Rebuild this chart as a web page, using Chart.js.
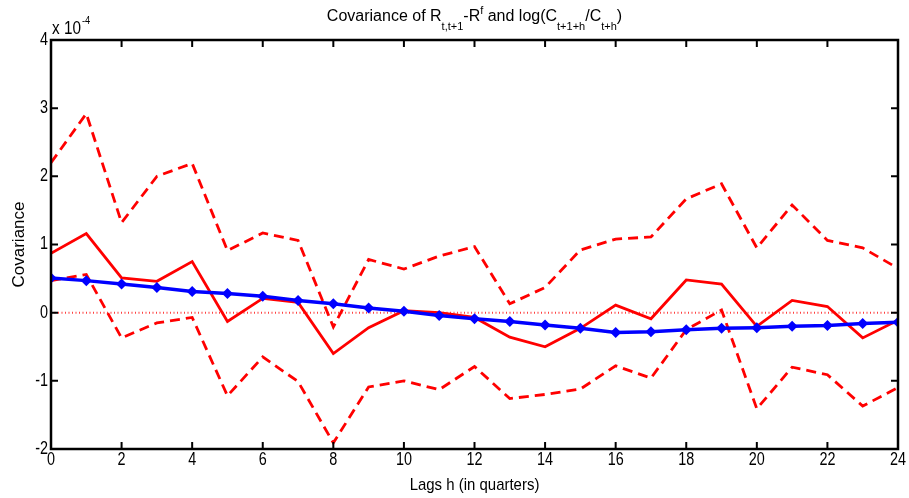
<!DOCTYPE html>
<html><head><meta charset="utf-8">
<script src="https://cdn.jsdelivr.net/npm/chart.js@4/dist/chart.umd.min.js"></script>
<style>html,body{margin:0;padding:0;background:#fff}#wrap{width:909px;height:498px}</style>
</head><body><div id="wrap"><canvas id="c" width="909" height="498"></canvas></div>
<script>
const lags = [0,1,2,3,4,5,6,7,8,9,10,11,12,13,14,15,16,17,18,19,20,21,22,23,24];
// values in units of 1e-4
const upperBand = [2.20,2.92,1.32,2.00,2.19,0.91,1.17,1.06,-0.21,0.78,0.64,0.83,0.97,0.13,0.37,0.92,1.08,1.11,1.67,1.89,0.95,1.58,1.06,0.95,0.65];
const estimate  = [0.87,1.16,0.51,0.46,0.75,-0.13,0.21,0.15,-0.60,-0.22,0.03,0.00,-0.07,-0.36,-0.50,-0.23,0.11,-0.09,0.48,0.42,-0.20,0.18,0.09,-0.37,-0.11];
const lowerBand = [0.47,0.56,-0.37,-0.15,-0.07,-1.22,-0.65,-1.01,-1.91,-1.09,-1.00,-1.13,-0.79,-1.26,-1.20,-1.12,-0.78,-0.96,-0.25,0.04,-1.41,-0.80,-0.91,-1.37,-1.10];
const model     = [0.51,0.47,0.42,0.37,0.31,0.28,0.24,0.18,0.13,0.07,0.02,-0.04,-0.09,-0.13,-0.18,-0.23,-0.29,-0.28,-0.25,-0.23,-0.22,-0.20,-0.19,-0.16,-0.14];
const zeroLine = [0,0];
const zeroX = [0,24];
const xTicks = [0,2,4,6,8,10,12,14,16,18,20,22,24];
const yTicks = [-2,-1,0,1,2,3,4];

const FONT = "'Liberation Sans',Arial,sans-serif";
const pts = (xs, ys) => xs.map((x,i)=>({x:x,y:ys[i]}));

function narrowText(ctx, txt, x, y, sx){
  ctx.save(); ctx.translate(x,y); ctx.scale(sx,1); ctx.fillText(txt,0,0); ctx.restore();
}

const framePlugin = {
  id:'frame',
  afterDraw(chart){
    const ctx = chart.ctx, a = chart.chartArea;
    const xs = chart.scales.x, ys = chart.scales.y;
    ctx.save();
    ctx.strokeStyle = '#000'; ctx.lineWidth = 2.5;
    ctx.strokeRect(a.left, a.top, a.right-a.left, a.bottom-a.top);
    ctx.lineWidth = 2;
    const tl = 7;
    ctx.beginPath();
    xTicks.forEach(v=>{ const p = xs.getPixelForValue(v);
      ctx.moveTo(p,a.bottom); ctx.lineTo(p,a.bottom-tl);
      ctx.moveTo(p,a.top); ctx.lineTo(p,a.top+tl); });
    yTicks.forEach(v=>{ const p = ys.getPixelForValue(v);
      ctx.moveTo(a.left,p); ctx.lineTo(a.left+tl,p);
      ctx.moveTo(a.right,p); ctx.lineTo(a.right-tl,p); });
    ctx.stroke();
    // tick labels
    ctx.fillStyle = '#000';
    ctx.font = '18px ' + FONT;
    ctx.textAlign = 'center'; ctx.textBaseline = 'top';
    xTicks.forEach(v=>{ narrowText(ctx, String(v), xs.getPixelForValue(v), a.bottom+2, 0.8); });
    ctx.textAlign = 'right'; ctx.textBaseline = 'middle';
    yTicks.forEach(v=>{ narrowText(ctx, String(v), a.left-3, ys.getPixelForValue(v), 0.8); });
    // exponent label
    ctx.textAlign = 'left'; ctx.textBaseline = 'alphabetic';
    ctx.font = '18px ' + FONT;
    narrowText(ctx, 'x 10', a.left+1, a.top-6, 0.85);
    const w = ctx.measureText('x 10').width*0.85;
    ctx.font = '11px ' + FONT;
    narrowText(ctx, '-4', a.left+2+w, a.top-16, 0.85);
    // axis titles
    ctx.font = '17px ' + FONT;
    ctx.textAlign = 'center';
    narrowText(ctx, 'Lags h (in quarters)', (a.left+a.right)/2, 490, 0.88);
    ctx.save();
    ctx.translate(24, (a.top+a.bottom)/2);
    ctx.rotate(-Math.PI/2);
    ctx.fillText('Covariance', 0, 0);
    ctx.restore();
    // title with sub/superscripts
    const segs = [
      ['Covariance of R','n'],['t,t+1','sub'],['-R','n'],['f','sup'],
      [' and log(C','n'],['t+1+h','sub'],['/C','n'],['t+h','sub'],[')','n']];
    const fn = '16px ' + FONT;
    const fs = '11px ' + FONT;
    let total = 0;
    segs.forEach(s=>{ ctx.font = s[1]==='n'?fn:fs; total += ctx.measureText(s[0]).width; });
    let x = (a.left+a.right)/2 - total/2;
    const base = 21;
    ctx.textAlign = 'left';
    segs.forEach(s=>{
      ctx.font = s[1]==='n'?fn:fs;
      const dy = s[1]==='sub'?9:(s[1]==='sup'?-7:0);
      ctx.fillText(s[0], x, base+dy);
      x += ctx.measureText(s[0]).width;
    });
    ctx.restore();
  }
};

new Chart(document.getElementById('c'), {
  type:'line',
  data:{ datasets:[
    {label:'model', data:pts(lags,model), borderColor:'#0000ff', backgroundColor:'#0000ff', borderWidth:3.5,
      pointStyle:'rectRot', pointRadius:5.5, pointBorderWidth:0, order:0},
    {label:'estimate', data:pts(lags,estimate), borderColor:'#ff0000', borderWidth:2.8, pointRadius:0, order:1},
    {label:'upper', data:pts(lags,upperBand), borderColor:'#ff0000', borderWidth:2.8, borderDash:[10,6], pointRadius:0, order:2},
    {label:'lower', data:pts(lags,lowerBand), borderColor:'#ff0000', borderWidth:2.8, borderDash:[10,6], pointRadius:0, order:3},
    {label:'zero', data:pts(zeroX,zeroLine), borderColor:'#ff4040', borderWidth:2, borderDash:[1,2.5], pointRadius:0, order:4}
  ]},
  options:{
    responsive:false, animation:false, devicePixelRatio:1,
    layout:{padding:{top:40, right:11, bottom:0, left:0}},
    plugins:{legend:{display:false}, tooltip:{enabled:false}},
    elements:{line:{tension:0}},
    scales:{
      x:{type:'linear', min:0, max:24, grid:{display:false}, border:{display:false},
         ticks:{display:false}, afterFit(s){ s.height = 49; }},
      y:{type:'linear', min:-2, max:4, grid:{display:false}, border:{display:false},
         ticks:{display:false}, afterFit(s){ s.width = 51; }}
    }
  },
  plugins:[framePlugin]
});
</script></body></html>
